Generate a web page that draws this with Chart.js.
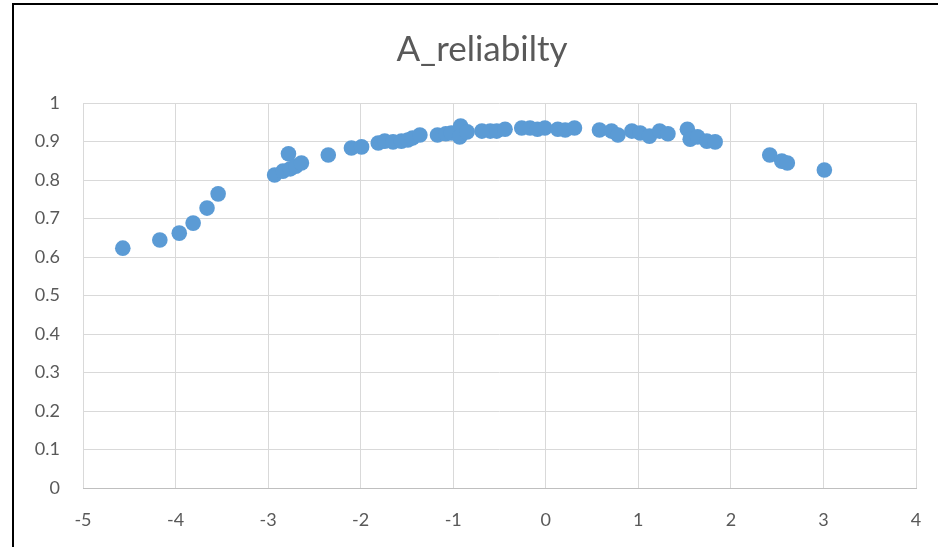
<!DOCTYPE html>
<html>
<head>
<meta charset="utf-8">
<script src="https://cdn.jsdelivr.net/npm/chart.js@4/dist/chart.umd.min.js"></script>
<style>
  html, body { margin: 0; padding: 0; background: #ffffff; }
  #wrap { position: relative; width: 938px; height: 547px; overflow: hidden; }
  #c { position: absolute; left: 0; top: 0; }
  #bl { position: absolute; left: 12px; top: 3px; width: 2px; height: 544px; background: #000; }
  #bt { position: absolute; left: 12px; top: 3px; width: 926px; height: 2px; background: #000; }
</style>
</head>
<body>
<div id="wrap">
  <canvas id="c" width="938" height="547"></canvas>
  <div id="bl"></div>
  <div id="bt"></div>
</div>
<script>
const chartTitle = "A_reliabilty";
const xValues = [-4.57, -4.17, -3.96, -3.81, -3.66, -3.54, -2.93, -2.84, -2.78, -2.76, -2.70, -2.64,
  -2.35, -2.10, -1.99, -1.81, -1.74, -1.65, -1.56, -1.49, -1.44, -1.36, -1.17, -1.08, -1.02, -0.92,
  -0.93, -0.85, -0.69, -0.60, -0.53, -0.44, -0.26, -0.17, -0.09, -0.01, 0.13, 0.21, 0.31, 0.58,
  0.71, 0.78, 0.93, 1.02, 1.12, 1.23, 1.32, 1.53, 1.56, 1.64, 1.74, 1.83, 2.42, 2.55, 2.61, 3.01];
const yValues = [0.623, 0.644, 0.662, 0.688, 0.727, 0.764, 0.813, 0.823, 0.868, 0.829, 0.836, 0.844,
  0.865, 0.883, 0.886, 0.896, 0.901, 0.899, 0.901, 0.904, 0.909, 0.917, 0.917, 0.920, 0.922, 0.940,
  0.912, 0.925, 0.927, 0.927, 0.927, 0.932, 0.935, 0.935, 0.932, 0.935, 0.932, 0.930, 0.935, 0.930,
  0.927, 0.917, 0.927, 0.922, 0.914, 0.927, 0.920, 0.932, 0.906, 0.912, 0.901, 0.899, 0.865, 0.849,
  0.844, 0.826];
const xTicks = [-5, -4, -3, -2, -1, 0, 1, 2, 3, 4];
const yTicks = [0, 0.1, 0.2, 0.3, 0.4, 0.5, 0.6, 0.7, 0.8, 0.9, 1];
const xTickLabels = ["-5", "-4", "-3", "-2", "-1", "0", "1", "2", "3", "4"];
const yTickLabels = ["0", "0.1", "0.2", "0.3", "0.4", "0.5", "0.6", "0.7", "0.8", "0.9", "1"];

const points = xValues.map((x, i) => ({ x: x, y: yValues[i] }));
const FONT = "Lato, 'Open Sans', sans-serif";
const TXT = "#595959";

const titlePlugin = {
  id: "centredTitle",
  afterDraw(chart) {
    const ctx = chart.ctx;
    ctx.save();
    ctx.font = "35px " + FONT;
    ctx.fillStyle = TXT;
    ctx.textAlign = "center";
    ctx.textBaseline = "middle";
    ctx.fillText(chartTitle, 482, 50);
    ctx.restore();
  }
};

new Chart(document.getElementById("c"), {
  type: "scatter",
  data: {
    datasets: [{
      data: points,
      backgroundColor: "#5B9BD5",
      borderColor: "#5B9BD5",
      borderWidth: 0,
      pointRadius: 7.8,
      pointHoverRadius: 7.8
    }]
  },
  plugins: [titlePlugin],
  options: {
    responsive: false,
    animation: false,
    events: [],
    layout: { padding: { left: 0, right: 22, top: 103, bottom: 0 } },
    plugins: {
      legend: { display: false },
      tooltip: { enabled: false },
      title: { display: false }
    },
    scales: {
      x: {
        type: "linear",
        min: -5, max: 4,
        afterBuildTicks: s => { s.ticks = xTicks.map(v => ({ value: v })); },
        afterFit: s => { s.height = 59; s.paddingLeft = 0; s.paddingRight = 0; },
        ticks: {
          color: TXT,
          font: { family: FONT, size: 18 },
          padding: 21,
          maxRotation: 0,
          callback: (v) => { const i = xTicks.indexOf(v); return i >= 0 ? xTickLabels[i] : ""; }
        },
        grid: { color: "#d9d9d9", lineWidth: 1, drawTicks: false },
        border: { display: true, color: "#bfbfbf", width: 1 }
      },
      y: {
        type: "linear",
        min: 0, max: 1,
        afterBuildTicks: s => { s.ticks = yTicks.map(v => ({ value: v })); },
        afterFit: s => { s.width = 83; },
        ticks: {
          color: TXT,
          font: { family: FONT, size: 18 },
          padding: 23,
          callback: (v) => { const i = yTicks.findIndex(t => Math.abs(t - v) < 1e-9); return i >= 0 ? yTickLabels[i] : ""; }
        },
        grid: { color: "#d9d9d9", lineWidth: 1, drawTicks: false },
        border: { display: false }
      }
    }
  }
});
</script>
</body>
</html>
